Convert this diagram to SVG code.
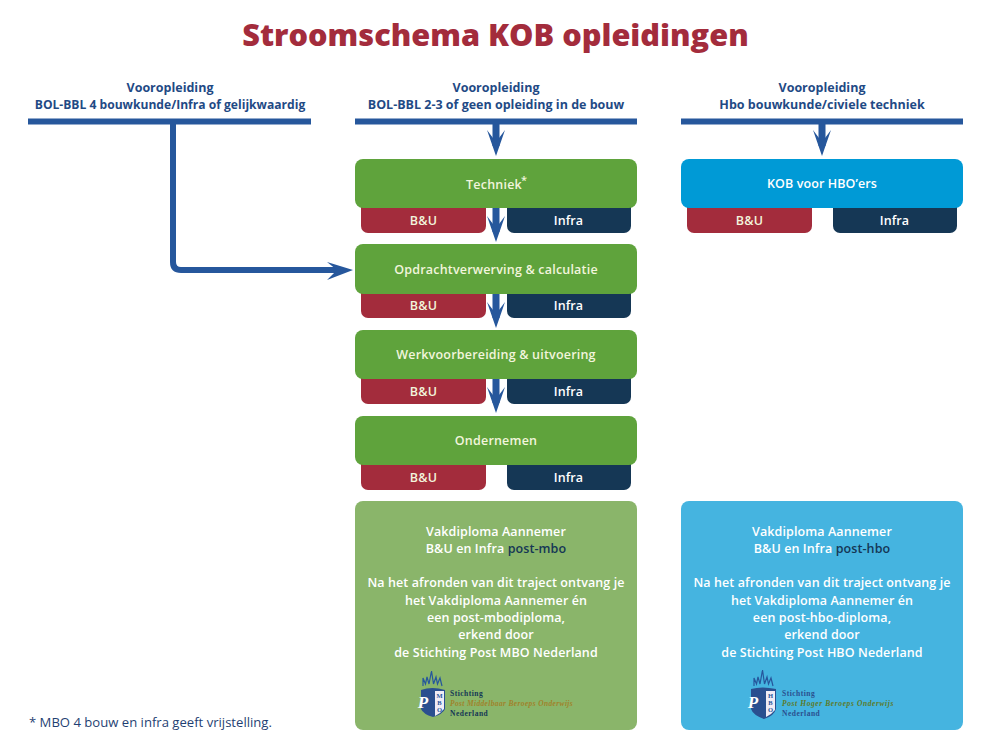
<svg xmlns="http://www.w3.org/2000/svg" width="989" height="754" viewBox="0 0 989 754">
<style>
text{font-family:"Open Sans","Noto Sans","Liberation Sans",sans-serif;text-anchor:middle}
.t{font-size:12.5px;font-weight:700;fill:#1f4a85}
.w{font-size:12.5px;font-weight:600;fill:#f2f5dc;letter-spacing:.2px}
.ws{font-size:12.5px;font-weight:600;fill:#fff;letter-spacing:.1px}
.g{fill:#5fa33c}.r{fill:#a32c3c}.n{fill:#153755}.b{fill:#009ad6}
.line{fill:none;stroke:#26579c;stroke-width:6}
.shaft{fill:none;stroke:#26579c;stroke-width:7}
.head{fill:#26579c}
.lt{font-family:"Liberation Serif",serif;font-size:7.5px;font-weight:700;text-anchor:start;letter-spacing:.5px}
.ls{font-family:"Liberation Serif",serif;font-size:6.5px;font-weight:700;fill:#26579c}
.p{font-family:"Liberation Serif",serif;font-size:17px;font-weight:700;font-style:italic;fill:#fff}
</style>
<rect width="989" height="754" fill="#fff"/>
<text x="495.500" y="46" style="font-size:30.700px;font-weight:800;fill:#a32c3c">Stroomschema KOB opleidingen</text>
<g id="connectors">
<path class="line" d="M28 121.500H311M355 121.500H637M681 121.500H963"/>
<path class="shaft" d="M496 124V146M822 124V146"/>
<path class="line" d="M173 124V262Q173 270 181 270H339"/>
<path class="head" d="M487 130L496 142L505 130L496 156ZM813 130L822 142L831 130L822 156Z"/>
<path class="head" d="M327 262L337 270L327 280L353 270Z"/>
</g>
<g id="hdr1"><text class="t" x="170" y="92">Vooropleiding</text><text class="t" x="170" y="109" style="font-size:12.100px">BOL-BBL 4 bouwkunde/Infra of gelijkwaardig</text></g>
<g id="hdr2"><text class="t" x="496" y="92">Vooropleiding</text><text class="t" x="496" y="109">BOL-BBL 2-3 of geen opleiding in de bouw</text></g>
<g id="hdr3"><text class="t" x="822" y="92">Vooropleiding</text><text class="t" x="822" y="109">Hbo bouwkunde/civiele techniek</text></g>
<g id="sub1"><rect class="r" x="361" y="200" width="125" height="33" rx="7"/><rect class="n" x="507" y="200" width="124" height="33" rx="7"/><text class="w" x="423.500" y="225">B&amp;U</text><text class="ws" x="568.500" y="225">Infra</text></g>
<g id="sub2"><rect class="r" x="361" y="285" width="125" height="33" rx="7"/><rect class="n" x="507" y="285" width="124" height="33" rx="7"/><text class="w" x="423.500" y="310">B&amp;U</text><text class="ws" x="568.500" y="310">Infra</text></g>
<g id="sub3"><rect class="r" x="361" y="371" width="125" height="33" rx="7"/><rect class="n" x="507" y="371" width="124" height="33" rx="7"/><text class="w" x="423.500" y="396">B&amp;U</text><text class="ws" x="568.500" y="396">Infra</text></g>
<g id="sub4"><rect class="r" x="361" y="457" width="125" height="33" rx="7"/><rect class="n" x="507" y="457" width="124" height="33" rx="7"/><text class="w" x="423.500" y="482">B&amp;U</text><text class="ws" x="568.500" y="482">Infra</text></g>
<g id="sub5"><rect class="r" x="687" y="200" width="125" height="33" rx="7"/><rect class="n" x="833" y="200" width="124" height="33" rx="7"/><text class="w" x="749.500" y="225">B&amp;U</text><text class="ws" x="894.500" y="225">Infra</text></g>
<g id="arrows-over">
<path class="shaft" d="M496 205V232M496 291V318M496 376V403"/>
<path class="head" d="M487 216L496 228L505 216L496 242ZM487 302L496 314L505 302L496 328ZM487 387L496 399L505 387L496 413Z"/>
</g>
<g id="techniek"><rect class="g" x="355" y="159" width="282" height="49" rx="8"/><text class="w" x="494" y="189">Techniek</text><text class="w" x="524" y="184" style="font-size:11px">*</text></g>
<g id="opdracht"><rect class="g" x="355" y="244" width="282" height="50" rx="8"/><text class="w" x="496" y="274">Opdrachtverwerving &amp; calculatie</text></g>
<g id="werk"><rect class="g" x="355" y="330" width="282" height="49" rx="8"/><text class="w" x="496" y="359">Werkvoorbereiding &amp; uitvoering</text></g>
<g id="ondernemen"><rect class="g" x="355" y="416" width="282" height="49" rx="8"/><text class="w" x="496" y="445">Ondernemen</text></g>
<g id="kob"><rect class="b" x="681" y="159" width="282" height="49" rx="8"/><text class="ws" x="822" y="188">KOB voor HBO’ers</text></g>
<g id="result-mbo">
<rect x="355" y="501" width="282" height="229" rx="8" fill="#8ab56a"/>
<text class="ws" x="496" y="536">Vakdiploma Aannemer</text>
<text class="ws" x="496" y="553">B&amp;U en Infra <tspan style="fill:#153755">post-mbo</tspan></text>
<text class="ws" x="496" y="587">Na het afronden van dit traject ontvang je</text>
<text class="ws" x="496" y="605">het Vakdiploma Aannemer én</text>
<text class="ws" x="496" y="622">een post-mbodiploma,</text>
<text class="ws" x="496" y="639">erkend door</text>
<text class="ws" x="496" y="657">de Stichting Post MBO Nederland</text>
<g id="logo-mbo">
<path d="M423 686L423 678L425.500 684L427 677L429 684L431.500 671L433.500 684L436 677L437.500 684L440 678L442 686" fill="none" stroke="#26579c" stroke-width="1.200"/>
<path d="M421 690Q432 686 445 690V709Q443 714 433 717Q423 714 421 709Z" fill="#2a4f8f"/>
<path d="M435 691H444V709Q441 713 435 716Z" fill="#f0ecf5"/>
<text class="p" x="423" y="708">P</text>
<text class="ls" x="439.500" y="698">M</text><text class="ls" x="439.500" y="705">B</text><text class="ls" x="439.500" y="712">O</text>
<text class="lt" x="450" y="696" fill="#153755">Stichting</text>
<text class="lt" x="450" y="706" fill="#a0832a" font-style="italic" style="letter-spacing:.35px">Post Middelbaar Beroeps Onderwijs</text>
<text class="lt" x="450" y="716" fill="#153755">Nederland</text>
</g>
</g>
<g id="result-hbo">
<rect x="681" y="501" width="282" height="229" rx="8" fill="#45b4e0"/>
<text class="ws" x="822" y="536">Vakdiploma Aannemer</text>
<text class="ws" x="822" y="553">B&amp;U en Infra <tspan style="fill:#153755">post-hbo</tspan></text>
<text class="ws" x="822" y="587">Na het afronden van dit traject ontvang je</text>
<text class="ws" x="822" y="605">het Vakdiploma Aannemer én</text>
<text class="ws" x="822" y="622">een post-hbo-diploma,</text>
<text class="ws" x="822" y="639">erkend door</text>
<text class="ws" x="822" y="657">de Stichting Post HBO Nederland</text>
<g id="logo-hbo">
<path d="M754 686L754 678L756.500 684L758 677L760 684L762.500 670L764.500 684L767 677L768.500 684L771 678L773 686" fill="none" stroke="#26579c" stroke-width="1.200"/>
<path d="M751 689Q762 686 776 689V709Q774 716 764 719Q753 715 751 709Z" fill="#2a4f8f"/>
<path d="M766 691H775V710Q772 714 766 717Z" fill="#f0ecf5"/>
<text class="p" x="753" y="708">P</text>
<text class="ls" x="770.500" y="698">H</text><text class="ls" x="770.500" y="705">B</text><text class="ls" x="770.500" y="712">O</text>
<text class="lt" x="782" y="696" fill="#2a4f8f">Stichting</text>
<text class="lt" x="782" y="706" fill="#5d7a2a" font-style="italic" style="letter-spacing:.6px">Post Hoger Beroeps Onderwijs</text>
<text class="lt" x="782" y="716" fill="#2a4f8f">Nederland</text>
</g>
</g>
<text id="footnote" x="29" y="727" style="text-anchor:start;font-size:13.100px;fill:#1f3f73">* MBO 4 bouw en infra geeft vrijstelling.</text>
</svg>
